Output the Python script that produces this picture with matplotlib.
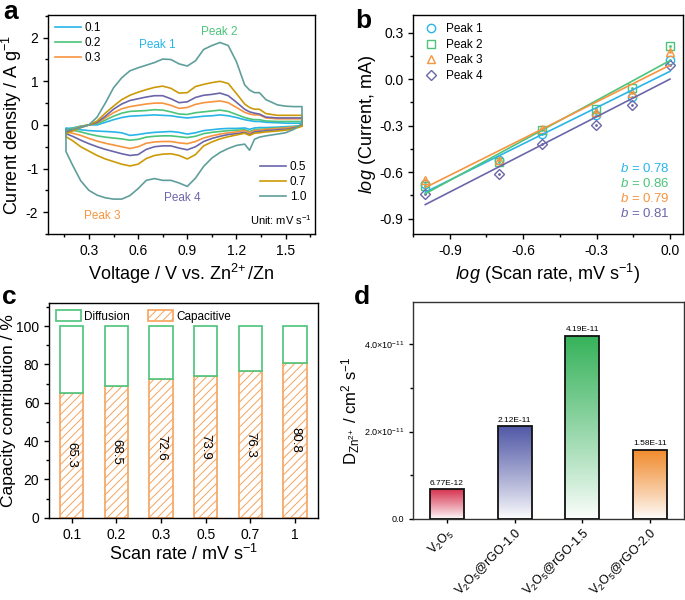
import numpy as np
import matplotlib
matplotlib.use('Agg')
import matplotlib.pyplot as plt
import matplotlib.colors as mcolors
import matplotlib.transforms as mtransforms
from matplotlib.patches import Patch
from matplotlib.lines import Line2D
from matplotlib.ticker import MultipleLocator

plt.rcParams['font.family'] = ['Liberation Sans', 'DejaVu Sans']
plt.rcParams['mathtext.fontset'] = 'custom'
plt.rcParams['mathtext.rm'] = 'Liberation Sans'
plt.rcParams['mathtext.it'] = 'Liberation Sans:italic'
plt.rcParams['mathtext.default'] = 'regular'
plt.rcParams['axes.unicode_minus'] = False
plt.rcParams['hatch.linewidth'] = 0.7
plt.rcParams['axes.linewidth'] = 1.0

# ---------------- panel a : CV curves ----------------
voltage = [0.16, 0.2, 0.25, 0.3, 0.35, 0.4, 0.45, 0.5, 0.55, 0.6, 0.65, 0.7, 0.75, 0.8, 0.85, 0.9,
           0.95, 1.0, 1.05, 1.1, 1.15, 1.2, 1.25, 1.28, 1.31, 1.34, 1.38, 1.45, 1.5, 1.55, 1.6]
scan_labels = ['0.1', '0.2', '0.3', '0.5', '0.7', '1.0']
cv_colors = ['#29b5e8', '#4cc47a', '#f7943f', '#6b66aa', '#cc9a06', '#5f9f9b']

up_01 = [-0.1, -0.07, -0.03, 0.0, 0.0, 0.06, 0.12, 0.17, 0.2, 0.21, 0.22, 0.23, 0.22, 0.21, 0.18, 0.16,
         0.18, 0.2, 0.21, 0.23, 0.21, 0.17, 0.12, 0.1, 0.08, 0.08, 0.06, 0.05, 0.04, 0.04, 0.04]
dn_01 = [-0.07, -0.09, -0.11, -0.13, -0.14, -0.15, -0.16, -0.18, -0.24, -0.22, -0.19, -0.17, -0.16, -0.15, -0.17, -0.21,
         -0.18, -0.13, -0.11, -0.09, -0.08, -0.08, -0.07, -0.1, -0.07, -0.06, -0.06, -0.05, -0.04, -0.03, -0.02]
up_02 = [-0.12, -0.08, -0.03, 0.0, 0.03, 0.11, 0.2, 0.27, 0.31, 0.32, 0.33, 0.35, 0.34, 0.3, 0.25, 0.24,
         0.28, 0.3, 0.32, 0.34, 0.31, 0.24, 0.17, 0.14, 0.12, 0.12, 0.09, 0.08, 0.08, 0.08, 0.08]
dn_02 = [-0.1, -0.12, -0.16, -0.21, -0.25, -0.28, -0.3, -0.32, -0.35, -0.33, -0.28, -0.26, -0.25, -0.25, -0.27, -0.29,
         -0.26, -0.2, -0.17, -0.15, -0.13, -0.12, -0.11, -0.15, -0.11, -0.1, -0.09, -0.07, -0.06, -0.04, -0.02]
up_03 = [-0.15, -0.1, -0.04, 0.0, 0.05, 0.16, 0.28, 0.37, 0.42, 0.45, 0.48, 0.5, 0.5, 0.45, 0.38, 0.4,
         0.47, 0.51, 0.53, 0.55, 0.51, 0.4, 0.29, 0.25, 0.23, 0.23, 0.16, 0.14, 0.14, 0.14, 0.14]
dn_03 = [-0.15, -0.19, -0.24, -0.31, -0.37, -0.42, -0.46, -0.5, -0.54, -0.5, -0.42, -0.39, -0.38, -0.38, -0.41, -0.43,
         -0.38, -0.3, -0.25, -0.21, -0.18, -0.16, -0.13, -0.18, -0.13, -0.12, -0.1, -0.08, -0.07, -0.05, -0.02]
up_05 = [-0.17, -0.12, -0.05, 0.0, 0.06, 0.2, 0.36, 0.48, 0.56, 0.6, 0.64, 0.67, 0.67, 0.6, 0.51, 0.53,
         0.63, 0.68, 0.7, 0.73, 0.67, 0.52, 0.36, 0.3, 0.27, 0.25, 0.18, 0.16, 0.16, 0.16, 0.16]
dn_05 = [-0.2, -0.26, -0.35, -0.43, -0.5, -0.56, -0.61, -0.66, -0.7, -0.68, -0.56, -0.5, -0.48, -0.48, -0.53, -0.57,
         -0.5, -0.38, -0.31, -0.26, -0.22, -0.2, -0.17, -0.22, -0.16, -0.15, -0.13, -0.11, -0.1, -0.07, -0.02]
up_07 = [-0.2, -0.14, -0.06, 0.0, 0.09, 0.27, 0.43, 0.58, 0.68, 0.75, 0.81, 0.86, 0.89, 0.84, 0.73, 0.74,
         0.88, 0.93, 0.97, 1.0, 0.95, 0.72, 0.48, 0.4, 0.36, 0.36, 0.26, 0.22, 0.22, 0.22, 0.22]
dn_07 = [-0.27, -0.36, -0.5, -0.6, -0.7, -0.78, -0.84, -0.9, -0.94, -0.9, -0.77, -0.7, -0.67, -0.66, -0.7, -0.78,
         -0.68, -0.48, -0.39, -0.32, -0.27, -0.23, -0.19, -0.24, -0.19, -0.18, -0.16, -0.14, -0.12, -0.09, -0.03]
up_10 = [-0.12, -0.1, -0.06, 0.0, 0.18, 0.5, 0.85, 1.08, 1.24, 1.31, 1.37, 1.43, 1.51, 1.5, 1.4, 1.35,
         1.47, 1.73, 1.82, 1.89, 1.82, 1.45, 0.92, 0.8, 0.74, 0.74, 0.58, 0.46, 0.43, 0.42, 0.42]
dn_10 = [-0.61, -0.92, -1.28, -1.5, -1.61, -1.67, -1.7, -1.7, -1.62, -1.46, -1.27, -1.23, -1.27, -1.27, -1.33, -1.41,
         -1.22, -0.95, -0.76, -0.63, -0.54, -0.47, -0.44, -0.58, -0.33, -0.28, -0.25, -0.21, -0.18, -0.1, 0.03]

upper_branches = [up_01, up_02, up_03, up_05, up_07, up_10]
lower_branches = [dn_01, dn_02, dn_03, dn_05, dn_07, dn_10]

peak_names = ['Peak 1', 'Peak 2', 'Peak 3', 'Peak 4']
peak_pos_a = [(0.715, 1.83), (1.097, 2.13), (0.38, -2.08), (0.87, -1.68)]
peak_colors = ['#29b5e8', '#4cc47a', '#f7943f', '#6b66aa']

# ---------------- panel b : log i vs log v ----------------
log_rate = [-1.0, -0.699, -0.523, -0.301, -0.155, 0.0]
log_i_p1 = [-0.68, -0.52, -0.355, -0.232, -0.113, 0.124]
log_i_p2 = [-0.69, -0.534, -0.33, -0.195, -0.055, 0.216]
log_i_p3 = [-0.65, -0.52, -0.32, -0.21, -0.088, 0.178]
log_i_p4 = [-0.74, -0.615, -0.42, -0.296, -0.167, 0.09]
b_values = [0.78, 0.86, 0.79, 0.81]
b_intercepts = [0.05, 0.12, 0.09, 0.0]
b_markers = ['o', 's', '^', 'D']
b_colors = ['#29b5e8', '#4cc47a', '#f7943f', '#6b66aa']

# ---------------- panel c : capacity contribution ----------------
rate_labels = ['0.1', '0.2', '0.3', '0.5', '0.7', '1']
capacitive = [65.3, 68.5, 72.6, 73.9, 76.3, 80.8]

# ---------------- panel d : diffusion coefficient ----------------
samples = ['V$_2$O$_5$', 'V$_2$O$_5$@rGO-1.0', 'V$_2$O$_5$@rGO-1.5', 'V$_2$O$_5$@rGO-2.0']
d_coeff = [6.77e-12, 2.12e-11, 4.19e-11, 1.58e-11]
d_texts = ['6.77E-12', '2.12E-11', '4.19E-11', '1.58E-11']
d_colors = ['#d6334f', '#5158a6', '#35b25a', '#f08a2c']
d_yticks = [0.0, 2e-11, 4e-11]
d_yticklabels = ['0.0', '2.0×10$^{-11}$', '4.0×10$^{-11}$']

LABEL_FS = 13

fig = plt.figure(figsize=(6.85, 6.0), dpi=100)

# ---- a
ax = fig.add_axes([0.070, 0.610, 0.390, 0.365])
lines = []
for up, dn, c, lab in zip(upper_branches, lower_branches, cv_colors, scan_labels):
    xs = voltage + voltage[::-1] + [voltage[0]]
    ys = up + dn[::-1] + [up[0]]
    ln, = ax.plot(xs, ys, color=c, lw=1.2, label=lab)
    lines.append(ln)
ax.set_xlim(0.05, 1.68)
ax.set_ylim(-2.5, 2.52)
ax.xaxis.set_major_locator(MultipleLocator(0.3))
ax.xaxis.set_minor_locator(MultipleLocator(0.15))
ax.yaxis.set_major_locator(MultipleLocator(1))
ax.yaxis.set_minor_locator(MultipleLocator(0.5))
ax.tick_params(direction='out', labelsize=10, length=3.5, width=1)
ax.tick_params(which='minor', direction='out', length=2, width=1)
ax.set_xlabel('Voltage / V vs. Zn$^{2\\!+}$/Zn', fontsize=LABEL_FS, labelpad=3)
ax.set_ylabel('Current density / A g$^{-1}$', fontsize=LABEL_FS, labelpad=1)
for name, (px, py), c in zip(peak_names, peak_pos_a, peak_colors):
    ax.text(px, py, name, color=c, fontsize=8.5, ha='center', va='center')
leg1 = ax.legend(handles=lines[:3], loc='upper left', frameon=False, fontsize=8.5,
                 handlelength=2.2, handletextpad=0.3, labelspacing=0.25, borderaxespad=0.2)
ax.add_artist(leg1)
ax.legend(handles=lines[3:], loc='center right', bbox_to_anchor=(0.985, 0.237), frameon=False,
          fontsize=8.5, handlelength=2.2, handletextpad=0.3, labelspacing=0.25, borderaxespad=0)
ax.text(0.99, 0.064, 'Unit: mV s$^{-1}$', transform=ax.transAxes, ha='right', va='center', fontsize=8)

# ---- b
ax = fig.add_axes([0.603, 0.610, 0.394, 0.365])
series_b = [log_i_p1, log_i_p2, log_i_p3, log_i_p4]
handles = []
for ys, m, c, name in zip(series_b, b_markers, b_colors, peak_names):
    ms = 6 if m != 'D' else 5
    ax.plot(log_rate, ys, linestyle='none', marker=m, markersize=ms,
            markerfacecolor='none', markeredgecolor=c, markeredgewidth=1.0)
    ax.plot(log_rate, ys, linestyle='none', marker='.', markersize=2, color=c)
    handles.append(Line2D([], [], linestyle='none', marker=m, markersize=ms,
                          markerfacecolor='none', markeredgecolor=c, label=name))
for b, k, c in zip(b_values, b_intercepts, b_colors):
    xl = np.array([log_rate[0], log_rate[-1]])
    ax.plot(xl, b * xl + k, color=c, lw=1.2)
blend = mtransforms.blended_transform_factory(ax.transData, ax.transAxes)
for i, (b, c) in enumerate(zip(b_values, b_colors)):
    ax.text(0.0, 0.297 - 0.0685 * i, '$\\mathit{b}$ = %.2f' % b, color=c, fontsize=9.5,
            ha='right', va='center', transform=blend)
ax.set_xlim(-1.05, 0.053)
ax.set_ylim(-1.0, 0.414)
ax.xaxis.set_major_locator(MultipleLocator(0.3))
ax.xaxis.set_minor_locator(MultipleLocator(0.15))
ax.yaxis.set_major_locator(MultipleLocator(0.3))
ax.yaxis.set_minor_locator(MultipleLocator(0.15))
ax.tick_params(direction='out', labelsize=10, length=3.5, width=1)
ax.tick_params(which='minor', direction='out', length=2, width=1)
ax.set_xlabel('$\\mathit{log}$ (Scan rate, mV s$^{-1}$)', fontsize=LABEL_FS, labelpad=3)
ax.set_ylabel('$\\mathit{log}$ (Current, mA)', fontsize=LABEL_FS, labelpad=1)
ax.legend(handles=handles, loc='upper left', frameon=False, fontsize=8.5, handlelength=1.6,
          handletextpad=0.5, labelspacing=0.3, borderaxespad=0.3)

# ---- c
ax = fig.add_axes([0.0715, 0.137, 0.3925, 0.358])
xc = np.arange(len(rate_labels))
diffusion = [100 - v for v in capacitive]
cap_col = '#f7a35c'
dif_col = '#4cc47a'
ax.bar(xc, capacitive, width=0.52, facecolor='white', edgecolor=cap_col, hatch='////', lw=1.2)
ax.bar(xc, diffusion, width=0.52, bottom=capacitive, facecolor='white', edgecolor=dif_col, lw=1.2)
for x, v in zip(xc, capacitive):
    ax.text(x, v / 2, '%.1f' % v, rotation=-90, ha='center', va='center', fontsize=9.5)
ax.set_xlim(-0.51, 5.51)
ax.set_ylim(0, 112)
ax.set_xticks(xc)
ax.set_xticklabels(rate_labels)
ax.yaxis.set_major_locator(MultipleLocator(20))
ax.yaxis.set_minor_locator(MultipleLocator(10))
ax.tick_params(direction='out', labelsize=10, length=3.5, width=1)
ax.tick_params(which='minor', direction='out', length=2, width=1)
ax.set_xlabel('Scan rate / mV s$^{-1}$', fontsize=LABEL_FS, labelpad=2)
ax.set_ylabel('Capacity contribution / %', fontsize=12.5, labelpad=0)
ax.legend(handles=[Patch(facecolor='white', edgecolor=dif_col, lw=1.2, label='Diffusion'),
                   Patch(facecolor='white', edgecolor=cap_col, hatch='////', lw=1.2, label='Capacitive')],
          loc='upper left', ncol=2, frameon=False, fontsize=8.5, handlelength=2.1, handleheight=1.1,
          handletextpad=0.3, columnspacing=1.5, borderaxespad=0.2)

# ---- d
ax = fig.add_axes([0.603, 0.135, 0.3955, 0.362])
xd = np.arange(len(samples))
bw = 0.5
for x, v, c, t in zip(xd, d_coeff, d_colors, d_texts):
    bar = ax.bar(x, v, width=bw, facecolor='none', edgecolor='#111111', lw=1.3, zorder=3)[0]
    rgb = np.array(mcolors.to_rgb(c))
    frac = np.linspace(0, 1, 256)[:, None] ** 0.9
    grad = (1 - frac) * np.ones(3) + frac * rgb
    im = ax.imshow(grad.reshape(256, 1, 3), extent=[x - bw / 2, x + bw / 2, 0, v], origin='lower',
                   aspect='auto', zorder=2)
    im.set_clip_path(bar)
    ax.text(x, v + 0.06e-11, t, ha='center', va='bottom', fontsize=6)
ax.set_xlim(-0.5, 3.5)
ax.set_ylim(0, 4.97e-11)
ax.set_xticks(xd)
ax.set_xticklabels(samples, rotation=45, ha='right', rotation_mode='anchor', fontsize=9)
ax.set_yticks(d_yticks)
ax.set_yticklabels(d_yticklabels, fontsize=6.5)
ax.yaxis.set_minor_locator(MultipleLocator(1e-11))
ax.tick_params(direction='out', length=3, width=1)
ax.tick_params(axis='x', pad=2)
ax.tick_params(which='minor', direction='out', length=2, width=1)
ax.set_ylabel('D$_{Zn^{2\\!+}}$ / cm$^2$ s$^{-1}$', fontsize=12, labelpad=1)
for s in ax.spines.values():
    s.set_color('#333333')

# panel letters
for lab, (fx, fy) in zip(['a', 'b', 'c', 'd'], [(0.005, 1.0), (0.518, 0.985), (0.003, 0.525), (0.516, 0.525)]):
    fig.text(fx, fy, lab, fontsize=19, fontweight='bold', ha='left', va='top')

fig.savefig('out.png', dpi=100)
